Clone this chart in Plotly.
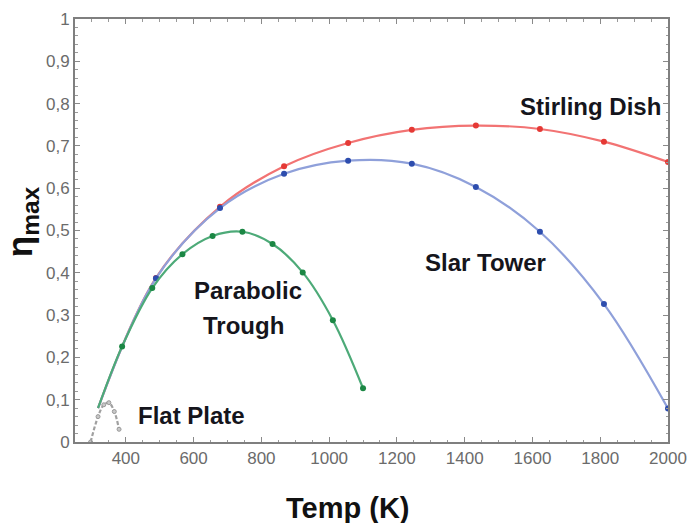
import plotly.graph_objects as go

# ---- data ----
T_tower = [318, 489, 678, 867, 1056, 1244, 1433, 1622, 1811, 2000]
eta_tower = [0.08, 0.387, 0.553, 0.634, 0.665, 0.658, 0.603, 0.497, 0.326, 0.079]

T_dish = [318, 489, 678, 867, 1056, 1244, 1433, 1622, 1811, 2000]
eta_dish = [0.08, 0.388, 0.556, 0.652, 0.707, 0.738, 0.748, 0.740, 0.710, 0.662]

T_trough = [318, 389, 478, 567, 656, 744, 833, 922, 1011, 1100]
eta_trough = [0.08, 0.226, 0.364, 0.444, 0.487, 0.497, 0.468, 0.401, 0.288, 0.127]

T_flat = [296, 318, 335, 350, 366, 380]
eta_flat = [0.0, 0.06, 0.088, 0.093, 0.072, 0.03]

y_tickvals = [0, 0.1, 0.2, 0.3, 0.4, 0.5, 0.6, 0.7, 0.8, 0.9, 1]
y_ticktext = ["0", "0,1", "0,2", "0,3", "0,4", "0,5", "0,6", "0,7", "0,8", "0,9", "1"]
x_tickvals = [400, 600, 800, 1000, 1200, 1400, 1600, 1800, 2000]
x_ticktext = ["400", "600", "800", "1000", "1200", "1400", "1600", "1800", "2000"]

series = [
    (T_dish, eta_dish, "#F27373", "#E53935"),
    (T_tower, eta_tower, "#8FA0DA", "#2D4DAE"),
    (T_trough, eta_trough, "#4DAA78", "#1B8744"),
]

fig = go.Figure()

fig.add_trace(go.Scatter(
    x=T_flat, y=eta_flat, mode="lines+markers",
    line=dict(color="#a0a0a0", width=2.2, dash="4px,2px", shape="spline"),
    marker=dict(size=4, color="#c8c8c8", line=dict(color="#9a9a9a", width=1)),
    showlegend=False, hoverinfo="skip"))

for T, e, lc, mc in series:
    fig.add_trace(go.Scatter(
        x=T, y=e, mode="lines",
        line=dict(color=lc, width=2.2, shape="spline", smoothing=1.0),
        showlegend=False, hoverinfo="skip"))
    fig.add_trace(go.Scatter(
        x=T[1:], y=e[1:], mode="markers",
        marker=dict(size=6, color=mc),
        showlegend=False, hoverinfo="skip"))

ann_font = dict(family="Liberation Sans, Arial", size=24, color="#15151c")
labels = [
    ("<b>Stirling Dish</b>", 1770, 0.792),
    ("<b>Slar Tower</b>", 1460, 0.425),
    ("<b>Parabolic</b>", 761, 0.359),
    ("<b>Trough</b>", 747, 0.276),
    ("<b>Flat Plate</b>", 595, 0.063),
]
for txt, x, y in labels:
    fig.add_annotation(x=x, y=y, xref="x", yref="y", text=txt, showarrow=False,
                       font=ann_font, xanchor="center", yanchor="middle")

# axis titles
fig.add_annotation(
    text="<b>η<sub>max</sub></b>", textangle=-90, showarrow=False, borderpad=0,
    xref="paper", yref="paper", x=-0.0894, y=0.522, xanchor="center", yanchor="middle",
    font=dict(family="Liberation Sans, Arial", size=35, color="#111111"))
fig.add_annotation(
    text="<b>Temp (K)</b>", showarrow=False,
    xref="paper", yref="paper", x=0.46, y=-0.155, xanchor="center", yanchor="middle",
    font=dict(family="Liberation Sans, Arial", size=29, color="#111111"))

axis_common = dict(
    showline=True, linecolor="#7f7f7f", linewidth=2, mirror="ticks",
    ticks="inside", ticklen=5, tickcolor="#8a8a8a", tickwidth=1,
    showgrid=False, zeroline=False, automargin=False,
    tickfont=dict(family="Liberation Sans, Arial", size=17, color="#6b6b6b"),
)

fig.update_xaxes(range=[250, 2000], tickmode="array", tickvals=x_tickvals, ticktext=x_ticktext,
                 minor=dict(ticks="inside", ticklen=2.5, tickcolor="#9a9a9a", dtick=50, tick0=0),
                 **axis_common)
fig.update_yaxes(range=[0, 1], tickmode="array", tickvals=y_tickvals, ticktext=y_ticktext,
                 minor=dict(ticks="inside", ticklen=2.5, tickcolor="#9a9a9a", dtick=0.02, tick0=0),
                 **axis_common)

fig.update_layout(
    width=688, height=523,
    margin=dict(l=75, r=20, t=19, b=81),
    plot_bgcolor="white", paper_bgcolor="white",
    showlegend=False,
)

fig.write_html("out.html")
